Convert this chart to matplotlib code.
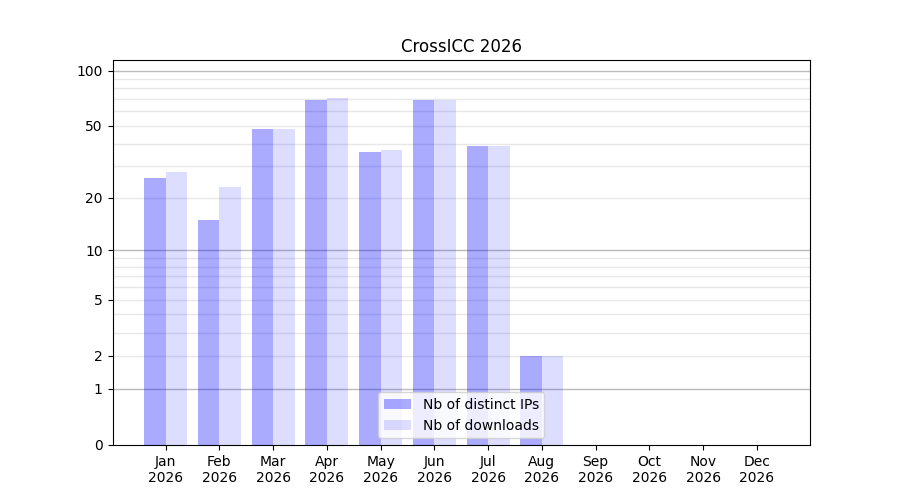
import numpy as np
import matplotlib
matplotlib.use('Agg')
import matplotlib.pyplot as plt

# données
months = ['Jan', 'Feb', 'Mar', 'Apr', 'May', 'Jun', 'Jul', 'Aug', 'Sep', 'Oct', 'Nov', 'Dec']
year = 2026
nb_ips = [26, 15, 48, 69, 36, 69, 39, 2, 0, 0, 0, 0]
nb_downloads = [28, 23, 48, 71, 37, 69, 39, 2, 0, 0, 0, 0]

fig, ax = plt.subplots(figsize=(9, 5), dpi=100)
ax.set_yscale('function', functions=(lambda v: np.log10(np.maximum(v, 0) + 1),
                                     lambda v: 10 ** v - 1))

x = np.arange(len(months))
ax.bar(x - 0.2, nb_ips, width=0.4, color='blue', alpha=1 / 3, label='Nb of distinct IPs')
ax.bar(x + 0.2, nb_downloads, width=0.4, color='blue', alpha=0.134, label='Nb of downloads')

ax.set_ylim(0, 114)
ax.set_yticks([0, 1, 2, 5, 10, 20, 50, 100])
ax.set_yticklabels(['0', '1', '2', '5', '10', '20', '50', '100'])
ax.set_yticks([], minor=True)

# grille
for v in list(range(2, 10)) + list(range(20, 100, 10)):
    ax.axhline(v, color='#e8e8e8', lw=1, zorder=0)
for v in [1, 10, 100]:
    ax.axhline(v, color='#bbbbbb', lw=1, zorder=0)

ax.set_xticks(x)
ax.set_xticklabels([f'{m}\n{year}' for m in months])
ax.set_title(f'CrossICC {year}')
ax.legend(loc='lower center')

fig.savefig('out.png')
